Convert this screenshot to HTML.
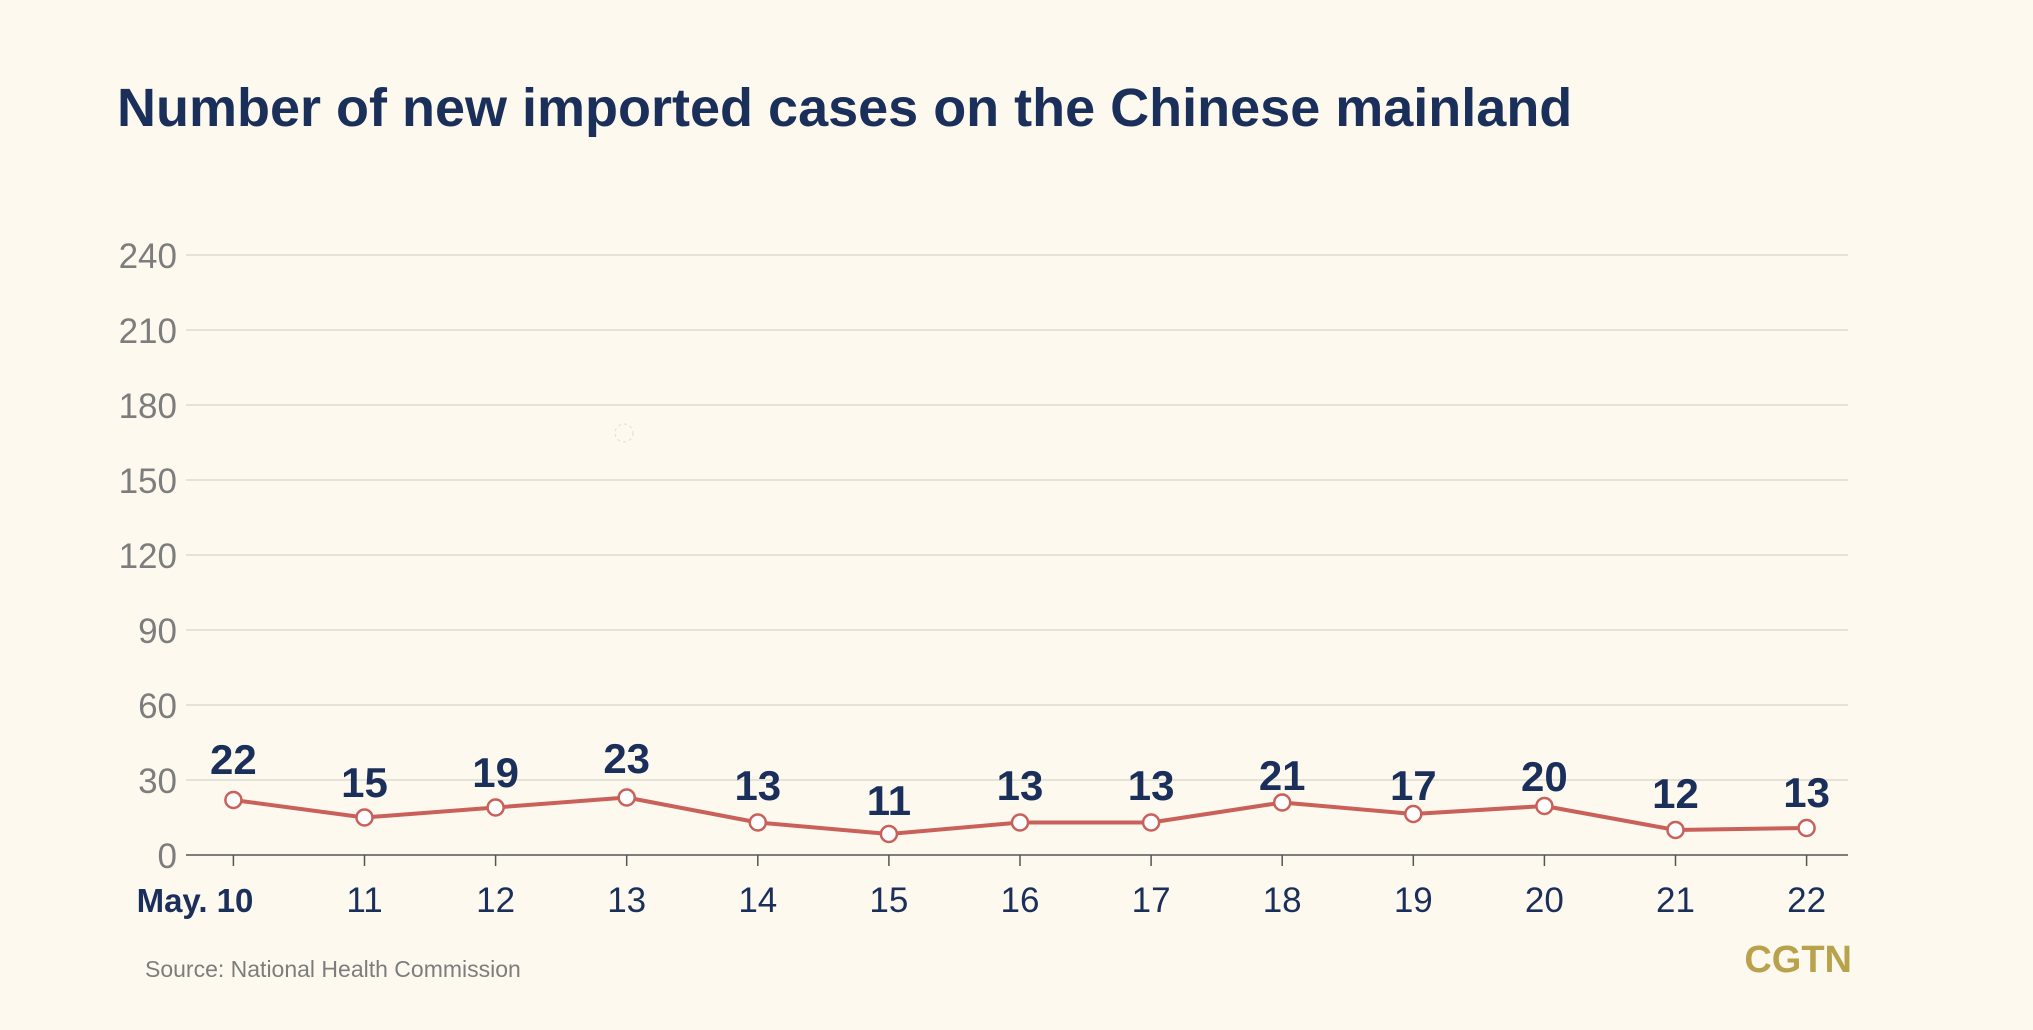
<!DOCTYPE html>
<html><head><meta charset="utf-8"><style>
html,body{margin:0;padding:0;background:#fdf9ee;}
svg{display:block;}
</style></head><body>
<svg width="2033" height="1030" viewBox="0 0 2033 1030" xmlns="http://www.w3.org/2000/svg">
<rect width="2033" height="1030" fill="#fdf9ee"/>
<text x="117" y="126" font-family="Liberation Sans, sans-serif" font-weight="bold" font-size="54" fill="#1b2f5b">Number of new imported cases on the Chinese mainland</text>
<g stroke="#dddad0" stroke-width="1.5">
<line x1="186" x2="1848" y1="255" y2="255"/>
<line x1="186" x2="1848" y1="330" y2="330"/>
<line x1="186" x2="1848" y1="405" y2="405"/>
<line x1="186" x2="1848" y1="480" y2="480"/>
<line x1="186" x2="1848" y1="555" y2="555"/>
<line x1="186" x2="1848" y1="630" y2="630"/>
<line x1="186" x2="1848" y1="705" y2="705"/>
<line x1="186" x2="1848" y1="780" y2="780"/>
</g>
<line x1="186" x2="1848" y1="855" y2="855" stroke="#555" stroke-width="1.5"/>
<g font-family="Liberation Sans, sans-serif" font-size="35" fill="#7d7d7d" text-anchor="end">
<text x="177" y="268">240</text><text x="177" y="343">210</text><text x="177" y="418">180</text>
<text x="177" y="493">150</text><text x="177" y="568">120</text><text x="177" y="643">90</text>
<text x="177" y="718">60</text><text x="177" y="793">30</text><text x="177" y="868">0</text>
</g>
<circle cx="624" cy="433" r="9" fill="none" stroke="#ddd" stroke-dasharray="3 3"/>
<polyline fill="none" stroke="#c9605a" stroke-width="4" stroke-linejoin="round" points="233.4,800 364.5,817.5 495.6,807.5 626.7,797.5 757.8,822.5 888.9,834 1020,822.5 1151.1,822.5 1282.2,802.5 1413.3,814 1544.4,806 1675.5,830 1806.6,828"/>
<g fill="#fff" stroke="#c9605a" stroke-width="2.5">
<circle cx="233.4" cy="800" r="8"/><circle cx="364.5" cy="817.5" r="8"/><circle cx="495.6" cy="807.5" r="8"/>
<circle cx="626.7" cy="797.5" r="8"/><circle cx="757.8" cy="822.5" r="8"/><circle cx="888.9" cy="834" r="8"/>
<circle cx="1020" cy="822.5" r="8"/><circle cx="1151.1" cy="822.5" r="8"/><circle cx="1282.2" cy="802.5" r="8"/>
<circle cx="1413.3" cy="814" r="8"/><circle cx="1544.4" cy="806" r="8"/><circle cx="1675.5" cy="830" r="8"/>
<circle cx="1806.6" cy="828" r="8"/>
</g>
<g font-family="Liberation Sans, sans-serif" font-weight="bold" font-size="42" fill="#1b2f5b" text-anchor="middle">
<text x="233.4" y="774">22</text><text x="364.5" y="797">15</text><text x="495.6" y="787">19</text>
<text x="626.7" y="773">23</text><text x="757.8" y="800">13</text><text x="888.9" y="815">11</text>
<text x="1020" y="800">13</text><text x="1151.1" y="800">13</text><text x="1282.2" y="790">21</text>
<text x="1413.3" y="800">17</text><text x="1544.4" y="791">20</text><text x="1675.5" y="808">12</text>
<text x="1806.6" y="807">13</text>
</g>
<g stroke="#555" stroke-width="1.5">
<line x1="233.4" x2="233.4" y1="855" y2="866"/><line x1="364.5" x2="364.5" y1="855" y2="866"/>
<line x1="495.6" x2="495.6" y1="855" y2="866"/><line x1="626.7" x2="626.7" y1="855" y2="866"/>
<line x1="757.8" x2="757.8" y1="855" y2="866"/><line x1="888.9" x2="888.9" y1="855" y2="866"/>
<line x1="1020" x2="1020" y1="855" y2="866"/><line x1="1151.1" x2="1151.1" y1="855" y2="866"/>
<line x1="1282.2" x2="1282.2" y1="855" y2="866"/><line x1="1413.3" x2="1413.3" y1="855" y2="866"/>
<line x1="1544.4" x2="1544.4" y1="855" y2="866"/><line x1="1675.5" x2="1675.5" y1="855" y2="866"/>
<line x1="1806.6" x2="1806.6" y1="855" y2="866"/>
</g>
<g font-family="Liberation Sans, sans-serif" font-size="35" fill="#1b2f5b" text-anchor="middle">
<text x="195" y="912" font-weight="bold" font-size="33">May. 10</text>
<text x="364.5" y="912">11</text><text x="495.6" y="912">12</text><text x="626.7" y="912">13</text>
<text x="757.8" y="912">14</text><text x="888.9" y="912">15</text><text x="1020" y="912">16</text>
<text x="1151.1" y="912">17</text><text x="1282.2" y="912">18</text><text x="1413.3" y="912">19</text>
<text x="1544.4" y="912">20</text><text x="1675.5" y="912">21</text><text x="1806.6" y="912">22</text>
</g>
<text x="145" y="977" font-family="Liberation Sans, sans-serif" font-size="23" fill="#7d7d7d">Source: National Health Commission</text>
<text x="1852" y="972" text-anchor="end" font-family="Liberation Sans, sans-serif" font-weight="bold" font-size="38" fill="#b9a24c">CGTN</text>
</svg>
</body></html>
